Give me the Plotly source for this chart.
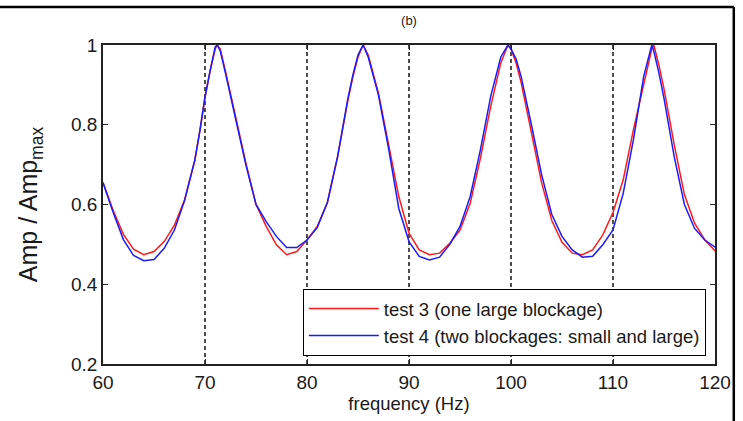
import plotly.graph_objects as go

# ---- data ----
freq = [60, 61, 62, 63, 64, 65, 66, 67, 68, 69, 69.5, 70, 70.5, 71, 71.2, 71.5, 72, 72.5, 73, 74,
        75, 76, 77, 78, 79, 80, 81, 82, 83, 84, 84.5, 85, 85.5, 86, 86.5, 87, 88, 89, 90, 91,
        92, 93, 94, 95, 96, 97, 98, 99, 99.7, 100, 100.5, 101, 102, 103, 104, 105, 106, 107, 108, 109,
        110, 111, 112, 113, 113.8, 114, 114.5, 115, 116, 117, 118, 119, 120]

test3 = [0.655, 0.585, 0.525, 0.488, 0.474, 0.482, 0.507, 0.548, 0.612, 0.71, 0.785, 0.868, 0.935, 0.99, 1.0, 0.99, 0.935, 0.88, 0.82, 0.705,
         0.60, 0.545, 0.499, 0.474, 0.482, 0.511, 0.545, 0.605, 0.72, 0.86, 0.92, 0.97, 1.0, 0.975, 0.93, 0.88, 0.75, 0.62, 0.528, 0.486,
         0.474, 0.478, 0.503, 0.536, 0.603, 0.716, 0.845, 0.955, 1.0, 0.99, 0.955, 0.905, 0.78, 0.655, 0.56, 0.505, 0.478, 0.474, 0.486, 0.524,
         0.58, 0.662, 0.787, 0.90, 0.99, 1.0, 0.95, 0.89, 0.75, 0.625, 0.553, 0.511, 0.484]

test4 = [0.655, 0.58, 0.512, 0.472, 0.459, 0.462, 0.49, 0.536, 0.61, 0.712, 0.785, 0.87, 0.935, 0.995, 1.0, 0.985, 0.93, 0.875, 0.815, 0.70,
         0.60, 0.557, 0.52, 0.492, 0.492, 0.511, 0.542, 0.605, 0.72, 0.865, 0.925, 0.975, 1.0, 0.97, 0.925, 0.875, 0.74, 0.59, 0.507, 0.47,
         0.461, 0.468, 0.50, 0.545, 0.62, 0.737, 0.87, 0.97, 1.0, 0.99, 0.965, 0.92, 0.80, 0.675, 0.575, 0.52, 0.486, 0.468, 0.47, 0.499,
         0.536, 0.628, 0.762, 0.92, 1.0, 0.985, 0.93, 0.866, 0.72, 0.60, 0.54, 0.511, 0.493]

marker_freqs = [70, 80, 90, 100, 110]
x_ticks = [60, 70, 80, 90, 100, 110, 120]
y_ticks = [0.2, 0.4, 0.6, 0.8, 1.0]
y_tick_labels = ["0.2", "0.4", "0.6", "0.8", "1"]

FONT = "Liberation Sans, Arial, sans-serif"

fig = go.Figure()

# dashed vertical reference lines
for f in marker_freqs:
    fig.add_trace(go.Scatter(x=[f, f], y=[0.2, 1.0], mode="lines",
                             line=dict(color="#222222", width=1.6, dash="4px,3px"),
                             showlegend=False, hoverinfo="skip"))

fig.add_trace(go.Scatter(x=freq, y=test3, mode="lines", name="test 3 (one large blockage)",
                         line=dict(color="#ff1a1a", width=1.5)))
fig.add_trace(go.Scatter(x=freq, y=test4, mode="lines", name="test 4 (two blockages: small and large)",
                         line=dict(color="#1a1aff", width=1.5)))

axis_common = dict(showgrid=False, zeroline=False, showline=True, linecolor="#222222", linewidth=1.5,
                   mirror="ticks", ticks="inside", ticklen=5, tickwidth=1.3, tickcolor="#222222",
                   tickfont=dict(family=FONT, size=19, color="#1a1a1a"))

fig.update_xaxes(range=[60, 120], tickvals=x_ticks, **axis_common,
                 title=dict(text="frequency (Hz)", font=dict(family=FONT, size=18.5, color="#1a1a1a"), standoff=4))
fig.update_yaxes(range=[0.2, 1.0], tickvals=y_ticks, ticktext=y_tick_labels, **axis_common,
                 title=dict(text="Amp / Amp<sub>max</sub>", font=dict(family=FONT, size=25, color="#1a1a1a"), standoff=26))

# outer frame (top and right edges visible in reference)
fig.add_shape(type="line", xref="paper", yref="paper", x0=-0.17, x1=1.0307, y0=1.1191, y1=1.1191,
              line=dict(color="black", width=2.5))
fig.add_shape(type="line", xref="paper", yref="paper", x0=1.0307, x1=1.0307, y0=1.1191, y1=-0.18,
              line=dict(color="black", width=2.5))

fig.update_layout(
    width=743, height=421,
    margin=dict(l=103, r=22, t=45, b=57),
    paper_bgcolor="white", plot_bgcolor="white",
    title=dict(text="(b)", xref="container", x=0.5505, xanchor="center", yref="container", y=0.952, yanchor="middle",
               font=dict(family=FONT, size=13, color="#1a1a1a")),
    legend=dict(x=0.985, xanchor="right", y=0.025, yanchor="bottom",
                bgcolor="white", bordercolor="black", borderwidth=1,
                font=dict(family=FONT, size=18.5, color="#1a1a1a"),
                itemwidth=70, tracegroupgap=0),
)

fig.write_html("out.html")
